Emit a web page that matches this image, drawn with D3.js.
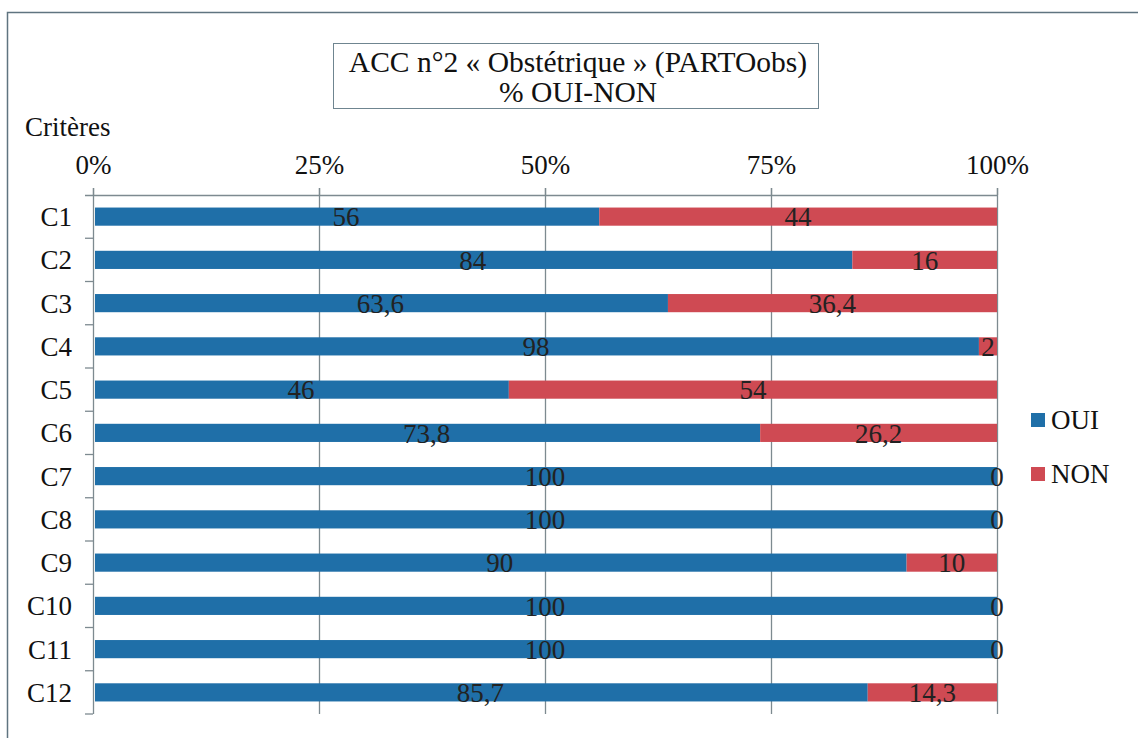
<!DOCTYPE html>
<html>
<head>
<meta charset="utf-8">
<script src="https://cdn.jsdelivr.net/npm/d3@7"></script>
<style>
    body { margin: 0; background: #fff; }
</style>
</head>
<body>
<div id="chart"></div>
<script>
const criteres = ["C1", "C2", "C3", "C4", "C5", "C6", "C7", "C8", "C9", "C10", "C11", "C12"];
const oui = [56, 84, 63.6, 98, 46, 73.8, 100, 100, 90, 100, 100, 85.7];
const non = [44, 16, 36.4, 2, 54, 26.2, 0, 0, 10, 0, 0, 14.3];
const ticks = [0, 25, 50, 75, 100];
const series = ["OUI", "NON"];
const COLORS = { OUI: "#1f6fa8", NON: "#cf4a53" };

const width = 1138, height = 738;
const margin = { top: 195, left: 93, right: 141, bottom: 24 };
const serif = "'Times New Roman', Times, 'Liberation Serif', 'DejaVu Serif', serif";
const fs = 27;

const svg = d3.select("#chart")
    .append("svg")
    .attr("width", width)
    .attr("height", height)
    .style("font-family", serif);

// outer frame
svg.append("path")
    .attr("d", "M7.5," + height + "V12.5H" + width)
    .attr("fill", "none")
    .attr("stroke", "#5f7480")
    .attr("stroke-width", 1.5);

// title box
svg.append("rect")
    .attr("x", 333.5).attr("y", 43.5)
    .attr("width", 485).attr("height", 65)
    .attr("fill", "#fff")
    .attr("stroke", "#6f8590");
svg.append("text")
    .attr("x", 578).attr("y", 72)
    .attr("text-anchor", "middle")
    .attr("font-size", 29.5)
    .attr("fill", "#111")
    .text("ACC n°2 « Obstétrique » (PARTOobs)");
svg.append("text")
    .attr("x", 578).attr("y", 102)
    .attr("text-anchor", "middle")
    .attr("font-size", 29.5)
    .attr("fill", "#111")
    .text("% OUI-NON");

svg.append("text")
    .attr("x", 25).attr("y", 136)
    .attr("font-size", fs)
    .attr("fill", "#111")
    .text("Critères");

const x = d3.scaleLinear()
    .domain([0, 100])
    .range([margin.left, width - margin.right]);

const y = d3.scaleBand()
    .domain(criteres)
    .range([margin.top, height - margin.bottom])
    .paddingInner(0.58)
    .paddingOuter(0.29);

// gridlines
svg.append("g")
    .selectAll("line")
    .data(ticks.slice(1))
    .enter()
    .append("line")
    .attr("x1", d => x(d) + 0.5).attr("x2", d => x(d) + 0.5)
    .attr("y1", margin.top - 7).attr("y2", height - margin.bottom)
    .attr("stroke", "#7d8a90")
    .attr("stroke-width", 1.3);

// top axis
const xAxis = svg.append("g")
    .attr("transform", "translate(0," + margin.top + ")")
    .call(d3.axisTop(x).tickValues(ticks).tickSize(7).tickPadding(14).tickFormat(d => d + "%"));
xAxis.select(".domain").attr("stroke", "#7d8a90").attr("stroke-width", 1.3)
    .attr("d", "M" + (margin.left - 8) + ",0.5H" + x(100));
xAxis.selectAll(".tick line").attr("stroke", "#7d8a90").attr("stroke-width", 1.3);
xAxis.selectAll(".tick text")
    .attr("font-size", fs)
    .style("font-family", serif)
    .attr("fill", "#111");

// left axis (ticks on band boundaries)
const yAxis = svg.append("g");
yAxis.append("line")
    .attr("x1", margin.left + 0.5).attr("x2", margin.left + 0.5)
    .attr("y1", margin.top - 7).attr("y2", height - margin.bottom)
    .attr("stroke", "#7d8a90").attr("stroke-width", 1.3);
yAxis.selectAll(".sep")
    .data(criteres)
    .enter()
    .append("line")
    .attr("x1", margin.left - 8).attr("x2", margin.left)
    .attr("y1", d => y(d) + y.bandwidth() + y.step() * 0.29)
    .attr("y2", d => y(d) + y.bandwidth() + y.step() * 0.29)
    .attr("stroke", "#7d8a90").attr("stroke-width", 1.3);
yAxis.selectAll(".lab")
    .data(criteres)
    .enter()
    .append("text")
    .attr("x", 72)
    .attr("y", d => y(d) + y.bandwidth() / 2)
    .attr("dy", "0.35em")
    .attr("text-anchor", "end")
    .attr("font-size", fs)
    .attr("fill", "#111")
    .text(d => d);

// stacked bars
const rows = criteres.map((c, i) => ({ key: c, OUI: oui[i], NON: non[i] }));
const stacked = d3.stack().keys(series)(rows);

const fmt = v => String(v).replace(".", ",");

stacked.forEach(layer => {
    const g = svg.append("g");
    g.selectAll("rect")
        .data(layer)
        .enter()
        .append("rect")
        .attr("x", d => x(d[0]) + (layer.key === "OUI" ? 2 : 0))
        .attr("y", d => y(d.data.key))
        .attr("width", d => Math.max(0, x(d[1]) - x(d[0]) - (layer.key === "OUI" ? 2 : 0)))
        .attr("height", y.bandwidth())
        .attr("fill", COLORS[layer.key]);
});

stacked.forEach(layer => {
    svg.append("g")
        .selectAll("text")
        .data(layer)
        .enter()
        .append("text")
        .attr("x", d => (x(d[0]) + x(d[1])) / 2)
        .attr("y", d => y(d.data.key) + y.bandwidth() / 2)
        .attr("dy", "0.36em")
        .attr("text-anchor", "middle")
        .attr("font-size", fs)
        .attr("fill", "#222")
        .text(d => fmt(d.data[layer.key]));
});

// legend
const legend = svg.append("g")
    .selectAll("g")
    .data(series)
    .enter()
    .append("g")
    .attr("transform", (d, i) => "translate(1031," + (420 + i * 54) + ")");
legend.append("rect")
    .attr("x", 0).attr("y", -7)
    .attr("width", 14).attr("height", 14)
    .attr("fill", d => COLORS[d]);
legend.append("text")
    .attr("x", 20).attr("dy", "0.35em")
    .attr("font-size", fs)
    .attr("fill", "#111")
    .text(d => d);
</script>
</body>
</html>
